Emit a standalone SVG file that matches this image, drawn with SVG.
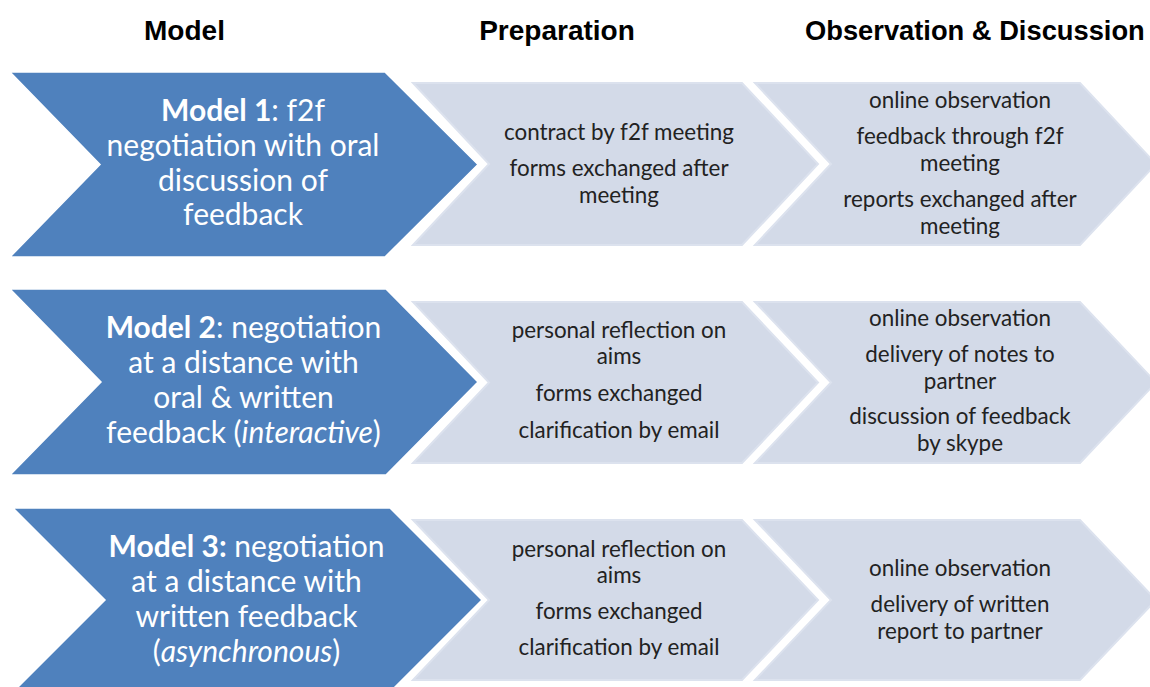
<svg xmlns="http://www.w3.org/2000/svg" width="1150" height="687" viewBox="0 0 1150 687">
<style>
.hdr{font-family:"Liberation Sans",Arial,sans-serif;font-weight:bold;font-size:28px;fill:#000}
.blue{fill:#4F81BD;stroke:#ffffff;stroke-width:1.5}
.light{fill:#D3DAE8;stroke:#DCE2EE;stroke-width:2}
.bt{font-family:Lato,"Noto Sans",sans-serif;font-size:30px;fill:#ffffff;text-anchor:middle}
.lt{font-family:Lato,"Noto Sans",sans-serif;font-size:22.4px;fill:#222222;text-anchor:middle}
.b{font-weight:bold}
.i{font-style:italic}
</style>
<rect width="1150" height="687" fill="#ffffff"/>
<g id="headers">
<text class="hdr" x="184.5" y="40" text-anchor="middle">Model</text>
<text class="hdr" x="557" y="40" text-anchor="middle">Preparation</text>
<text class="hdr" x="805" y="40" style="font-size:27.3px">Observation &amp; Discussion</text>
</g>

<g id="model1">
<polygon class="blue" points="10,72 385,72 478,164.5 385,257 10,257 100,164.5"/>
<text class="bt" x="243" y="121"><tspan class="b">Model 1</tspan>: f2f</text>
<text class="bt" x="243" y="156">negotiation with oral</text>
<text class="bt" x="243" y="191">discussion of</text>
<text class="bt" x="243" y="225">feedback</text>
</g>
<g id="prep1">
<polygon class="light" points="413,83 742,83 818,164 742,245 413,245 489,164"/>
<text class="lt" x="619" y="140">contract by f2f meeting</text>
<text class="lt" x="619" y="176">forms exchanged after</text>
<text class="lt" x="619" y="203">meeting</text>
</g>
<g id="obs1">
<polygon class="light" points="755,83 1080,83 1156,164 1080,245 755,245 831,164"/>
<text class="lt" x="960" y="108">online observation</text>
<text class="lt" x="960" y="144">feedback through f2f</text>
<text class="lt" x="960" y="171">meeting</text>
<text class="lt" x="960" y="207">reports exchanged after</text>
<text class="lt" x="960" y="234">meeting</text>
</g>

<g id="model2">
<polygon class="blue" points="10,289 386,289 478,382 386,475 10,475 101,382"/>
<text class="bt" x="243.5" y="338"><tspan class="b">Model 2</tspan>: negotiation</text>
<text class="bt" x="243.5" y="373">at a distance with</text>
<text class="bt" x="243.5" y="408">oral &amp; written</text>
<text class="bt" x="243.5" y="443">feedback (<tspan class="i">interactive</tspan>)</text>
</g>
<g id="prep2">
<polygon class="light" points="413,302 742,302 818,382.5 742,463 413,463 489,382.5"/>
<text class="lt" x="619" y="338">personal reflection on</text>
<text class="lt" x="619" y="364">aims</text>
<text class="lt" x="619" y="401">forms exchanged</text>
<text class="lt" x="619" y="438">clarification by email</text>
</g>
<g id="obs2">
<polygon class="light" points="755,302 1080,302 1156,382.5 1080,463 755,463 831,382.5"/>
<text class="lt" x="960" y="326">online observation</text>
<text class="lt" x="960" y="362">delivery of notes to</text>
<text class="lt" x="960" y="389">partner</text>
<text class="lt" x="960" y="424">discussion of feedback</text>
<text class="lt" x="960" y="451">by skype</text>
</g>

<g id="model3">
<polygon class="blue" points="13,508 390,508 482,600 390,692 13,692 105,600"/>
<text class="bt" x="246.5" y="557"><tspan class="b">Model 3:</tspan> negotiation</text>
<text class="bt" x="246.5" y="592">at a distance with</text>
<text class="bt" x="246.5" y="627">written feedback</text>
<text class="bt" x="246.5" y="662">(<tspan class="i">asynchronous</tspan>)</text>
</g>
<g id="prep3">
<polygon class="light" points="413,520 742,520 818,600 742,680 413,680 489,600"/>
<text class="lt" x="619" y="557">personal reflection on</text>
<text class="lt" x="619" y="583">aims</text>
<text class="lt" x="619" y="619">forms exchanged</text>
<text class="lt" x="619" y="655">clarification by email</text>
</g>
<g id="obs3">
<polygon class="light" points="755,520 1080,520 1156,600 1080,680 755,680 831,600"/>
<text class="lt" x="960" y="576">online observation</text>
<text class="lt" x="960" y="612">delivery of written</text>
<text class="lt" x="960" y="639">report to partner</text>
</g>
</svg>
